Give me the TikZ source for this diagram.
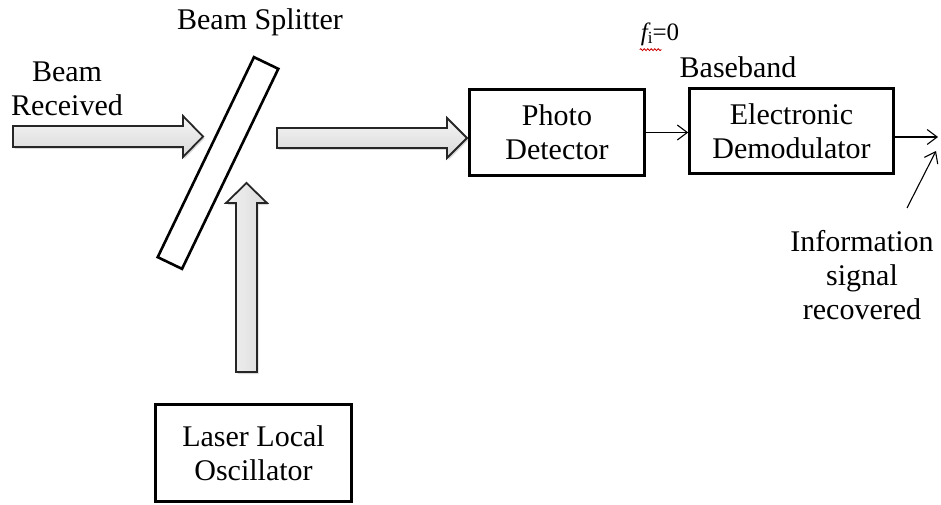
\documentclass[tikz,border=0pt]{standalone}
\usepackage{fontspec}
\setmainfont{Liberation Serif}
\usetikzlibrary{arrows.meta,shadows,decorations.pathmorphing}
\begin{document}
\begin{tikzpicture}[x=1pt,y=-1pt,
  box/.style={draw,line width=2.6pt,rectangle,inner sep=0pt,font=\fontsize{30}{34}\selectfont,align=center},
  lbl/.style={font=\fontsize{30}{34}\selectfont,align=center,inner sep=0pt},
  blockarrow/.style={draw=black!85,line width=1.8pt,line join=miter,
    drop shadow={shadow xshift=1.5pt,shadow yshift=-2pt,opacity=0.3}},
  hshade/.style={top color=gray!8,bottom color=gray!30},
  vshade/.style={left color=gray!10,right color=gray!28},
  thinarrow/.style={line width=1.1pt,-{Straight Barb[length=10pt,width=15pt,line width=1.1pt]}}]
\useasboundingbox (0,0) rectangle (941,505);

% beam splitter
\node[draw,line width=2.6pt,inner sep=0pt,minimum width=222pt,minimum height=27pt,rotate=64.3] (bs) at (218,163) {};

% boxes
\node[box,minimum width=175pt,minimum height=86pt] (pd) at (557,132.5) {Photo\\Detector};
\node[box,minimum width=204pt,minimum height=85pt] (ed) at (791.5,131) {Electronic\\Demodulator};
\node[box,minimum width=196pt,minimum height=97pt] (lo) at (253.5,453) {Laser Local\\Oscillator};

% block arrows
\draw[blockarrow,hshade] (13,126) -- (183,126) -- (183,116) -- (203,136.5) -- (183,157) -- (183,147) -- (13,147) -- cycle;
\draw[blockarrow,hshade] (277,128) -- (447,128) -- (447,118) -- (467,138) -- (447,158) -- (447,148) -- (277,148) -- cycle;
\draw[blockarrow,vshade] (236,372) -- (236,203) -- (226,203) -- (246.5,183) -- (267,203) -- (257,203) -- (257,372) -- cycle;

% labels
\node[lbl] (br) at (67,89) {Beam\\Received};
\node[lbl] (bsl) at (260,22) {Beam Splitter};
\node[lbl] (bb) at (738,67) {Baseband};
\node[inner sep=0pt] (fi) at (660,34) {\fontsize{25}{28}\selectfont\itshape f\raisebox{-3pt}{\fontsize{17}{20}\selectfont\upshape i}\upshape{=}0};
\draw[red!80!black,line width=0.8pt,decorate,decoration={snake,amplitude=1pt,segment length=3.5pt}] ([xshift=-1pt,yshift=-4pt]fi.south west) -- ++(22,0);
\node[lbl] (info) at (862,275) {Information\\signal\\recovered};

% thin arrows
\coordinate (out) at (938,137);
\coordinate (infostart) at (907,208);
\coordinate (infotip) at (936,151);
\draw[thinarrow] (pd.east) -- (pd.east -| ed.west);
\draw[thinarrow] (ed.east |- out) -- (out);
\draw[thinarrow] (infostart) -- (infotip);
\end{tikzpicture}
\end{document}
